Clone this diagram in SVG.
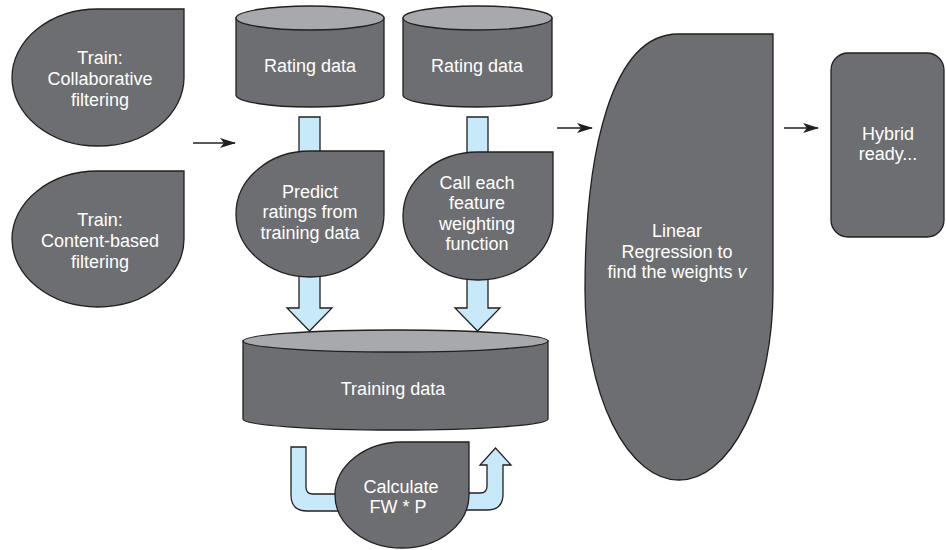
<svg xmlns="http://www.w3.org/2000/svg" width="946" height="550" viewBox="0 0 946 550">
<defs>
<style>
.n{fill:#6d6e71;stroke:#231f20;stroke-width:1.3}
.top{fill:#a7a9ac;stroke:#231f20;stroke-width:1.3}
.flow{fill:#c8e9f9;stroke:#231f20;stroke-width:1.3;stroke-linejoin:miter}
.ln{stroke:#231f20;stroke-width:1.3;fill:none}
text{font-family:"Liberation Sans",Arial,Helvetica,sans-serif;font-size:18px;fill:#ffffff;text-anchor:middle}
</style>
<marker id="ah" viewBox="0 0 16 10" refX="15" refY="5" markerWidth="16" markerHeight="10" markerUnits="userSpaceOnUse" orient="auto">
<path d="M0,0 L16,5 L0,10 L4,5 Z" fill="#231f20"/>
</marker>
</defs>
<rect width="946" height="550" fill="#ffffff"/>
<g id="connectors">
<line class="ln" x1="193" y1="143" x2="235" y2="143" marker-end="url(#ah)"/>
<line class="ln" x1="557" y1="128" x2="592" y2="128" marker-end="url(#ah)"/>
<line class="ln" x1="784" y1="128" x2="818" y2="128" marker-end="url(#ah)"/>
<path class="flow" d="M299,117 L320,117 L320,308 L332,308 L309.5,331 L287,308 L299,308 Z"/>
<path class="flow" d="M467,117 L488,117 L488,308 L500,308 L477.5,331 L455,308 L467,308 Z"/>
<path class="flow" d="M291,447 L306,447 L306,487 Q306,494 313,494 L345,494 L345,511 L307,511 Q291,511 291,495 Z"/>
<path class="flow" d="M460,493 L480,493 Q487,493 487,486 L487,465 L480,465 L495.5,448 L511,465 L503,465 L503,494 Q503,510 487,510 L460,510 Z"/>
</g>
<g id="train-cf">
<path class="n" d="M98,9 L184,9 L184,77.5 A86 68.5 0 0 1 98,146 A86 68.5 0 0 1 12,77.5 A86 68.5 0 0 1 98,9 Z"/>
<text x="100" y="64">Train:</text>
<text x="100" y="85">Collaborative</text>
<text x="100" y="106">filtering</text>
</g>
<g id="train-cb">
<path class="n" d="M98,171 L184,171 L184,239 A86 68 0 0 1 98,307 A86 68 0 0 1 12,239 A86 68 0 0 1 98,171 Z"/>
<text x="100" y="226">Train:</text>
<text x="100" y="247">Content-based</text>
<text x="100" y="268">filtering</text>
</g>
<g id="rating1">
<path class="n" d="M236,18 L236,95 A74 12 0 0 0 384,95 L384,18 Z"/>
<ellipse class="top" cx="310" cy="18" rx="74" ry="12"/>
<text x="310" y="72">Rating data</text>
</g>
<g id="rating2">
<path class="n" d="M403,18 L403,95 A74.5 12 0 0 0 552,95 L552,18 Z"/>
<ellipse class="top" cx="477.5" cy="18" rx="74.5" ry="12"/>
<text x="477" y="72">Rating data</text>
</g>
<g id="predict">
<path class="n" d="M310,151 L384,151 L384,214 A74 63 0 0 1 310,277 A74 63 0 0 1 236,214 A74 63 0 0 1 310,151 Z"/>
<text x="310" y="198">Predict</text>
<text x="310" y="218">ratings from</text>
<text x="310" y="239">training data</text>
</g>
<g id="call-fw">
<path class="n" d="M478,152 L553,152 L553,216 A75 64 0 0 1 478,280 A75 64 0 0 1 403,216 A75 64 0 0 1 478,152 Z"/>
<text x="477" y="189">Call each</text>
<text x="477" y="209">feature</text>
<text x="477" y="230">weighting</text>
<text x="477" y="250">function</text>
</g>
<g id="training-data">
<path class="n" d="M243,341 L243,419 A152.5 11 0 0 0 548,419 L548,341 Z"/>
<ellipse class="top" cx="395.5" cy="341" rx="152.5" ry="11"/>
<text x="393" y="395">Training data</text>
</g>
<g id="calculate">
<path class="n" d="M402,442 L469,442 L469,495 A67 53 0 0 1 402,548 A67 53 0 0 1 335,495 A67 53 0 0 1 402,442 Z"/>
<text x="401" y="493">Calculate</text>
<text x="398" y="513">FW * P</text>
</g>
<g id="linear-regression">
<path class="n" d="M773,34 L678,34 C612,34 585,150 585,290 A94 190 0 0 0 679,480 A94 190 0 0 0 773,290 Z"/>
<text x="677" y="237">Linear</text>
<text x="677" y="258">Regression to</text>
<text x="677" y="278">find the weights <tspan font-style="italic">v</tspan></text>
</g>
<g id="hybrid">
<rect class="n" x="831" y="53" width="113" height="184" rx="17" ry="17"/>
<text x="888" y="140">Hybrid</text>
<text x="888" y="160">ready...</text>
</g>
</svg>
